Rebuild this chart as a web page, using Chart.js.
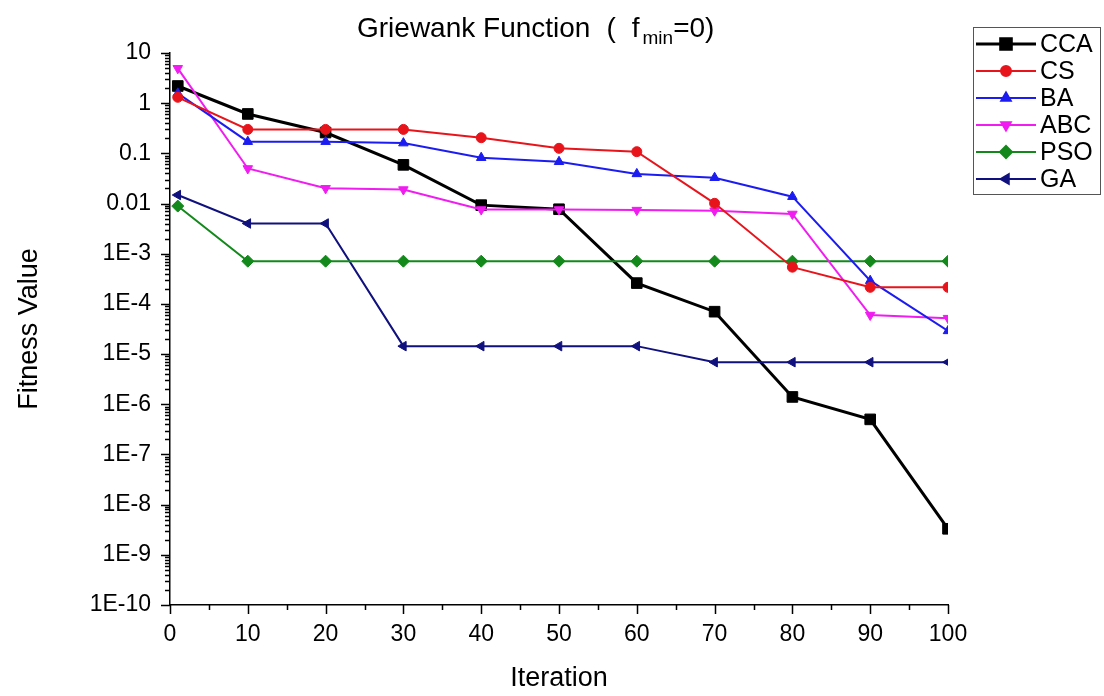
<!DOCTYPE html>
<html>
<head>
<meta charset="utf-8">
<title>Griewank Function</title>
<script src="https://cdn.jsdelivr.net/npm/chart.js@4/dist/chart.umd.min.js"></script>
<style>
  html, body { margin: 0; padding: 0; background: #fff; }
  canvas { display: block; }
</style>
</head>
<body>
<canvas id="chart" width="1104" height="696"></canvas>
<script>
"use strict";

// iterations where the values were sampled
const iterations = [1, 10, 20, 30, 40, 50, 60, 70, 80, 90, 100];

const cca = [2.2, 0.61, 0.26, 0.059, 0.0093, 0.0077, 2.6e-4, 7.0e-5, 1.4e-6, 5.0e-7, 3.3e-9];
const cs  = [1.31, 0.30, 0.30, 0.30, 0.205, 0.126, 0.108, 0.0101, 5.4e-4, 2.14e-4, 2.14e-4];
const ba  = [1.57, 0.171, 0.171, 0.16, 0.082, 0.068, 0.039, 0.0327, 0.0137, 2.9e-4, 2.9e-5];
const abc = [4.95, 0.050, 0.0201, 0.019, 0.0076, 0.0076, 0.0074, 0.0072, 0.0062, 6.0e-5, 5.2e-5];
const pso = [0.0089, 7.1e-4, 7.1e-4, 7.1e-4, 7.1e-4, 7.1e-4, 7.1e-4, 7.1e-4, 7.1e-4, 7.1e-4, 7.1e-4];
const ga  = [0.0148, 0.0040, 0.0040, 1.44e-5, 1.44e-5, 1.44e-5, 1.44e-5, 6.9e-6, 6.9e-6, 6.9e-6, 6.9e-6];

const xTickValues = [0, 10, 20, 30, 40, 50, 60, 70, 80, 90, 100];
const xTickLabels = ["0", "10", "20", "30", "40", "50", "60", "70", "80", "90", "100"];
const yTickValues = [1e-10, 1e-9, 1e-8, 1e-7, 1e-6, 1e-5, 1e-4, 1e-3, 0.01, 0.1, 1, 10];
const yTickLabels = ["1E-10", "1E-9", "1E-8", "1E-7", "1E-6", "1E-5", "1E-4", "1E-3", "0.01", "0.1", "1", "10"];

const FONT = "'Liberation Sans', Arial, sans-serif";

function pts(values) {
  return values.map((v, i) => ({ x: iterations[i], y: v }));
}

function series(label, values, color, style, extra) {
  return {
    label,
    data: pts(values),
    borderColor: color,
    backgroundColor: color,
    pointBackgroundColor: color,
    pointBorderColor: color,
    borderWidth: 2,
    pointStyle: style,
    pointRadius: 5.5,
    pointBorderWidth: 1,
    tension: 0,
    order: 0,
    ...extra,
  };
}

const datasets = [
  series("CCA", cca, "#000000", "rect", { borderWidth: 3, pointRadius: 7.5, order: 1 }),
  series("CS", cs, "#e8141c", "circle", { pointRadius: 5 }),
  series("BA", ba, "#1c1cf0", "triangle", {}),
  series("ABC", abc, "#f01cf0", "triangle", { pointRotation: 180 }),
  series("PSO", pso, "#12891a", "rectRot", { pointRadius: 6 }),
  series("GA", ga, "#10107e", "triangle", { pointRotation: 270 }),
];

// tick marks drawn by hand: major + minor, all pointing outwards
const tickMarks = {
  id: "tickMarks",
  afterDraw(chart) {
    const { ctx } = chart;
    const xs = chart.scales.x, ys = chart.scales.y;
    const left = chart.chartArea.left, bottom = chart.chartArea.bottom;
    ctx.save();
    ctx.strokeStyle = "#000";
    ctx.lineWidth = 1.5;
    ctx.beginPath();
    for (let v = 0; v <= 100; v += 5) {
      const px = Math.round(xs.getPixelForValue(v)) + 0.5;
      const len = v % 10 === 0 ? 9 : 5;
      ctx.moveTo(px, bottom);
      ctx.lineTo(px, bottom + len);
    }
    for (let e = -10; e <= 0; e++) {
      for (let k = 1; k <= 10; k++) {
        const v = k * Math.pow(10, e);
        const py = Math.round(ys.getPixelForValue(v)) + 0.5;
        const len = (k === 1 || k === 10) ? 9 : 5;
        ctx.moveTo(left, py);
        ctx.lineTo(left - len, py);
      }
    }
    ctx.stroke();
    ctx.restore();
  },
};

const titleAndLegend = {
  id: "titleAndLegend",
  afterDraw(chart) {
    const { ctx } = chart;
    ctx.save();
    ctx.fillStyle = "#000";
    ctx.textBaseline = "alphabetic";
    ctx.textAlign = "left";

    // title with subscript
    ctx.font = "28px " + FONT;
    let x = 357;
    const base = 37;
    ctx.fillText("Griewank Function", x, base);
    x += ctx.measureText("Griewank Function").width + 16;
    ctx.fillText("(", x, base);
    x += ctx.measureText("(").width + 16;
    ctx.fillText("f", x, base);
    x += ctx.measureText("f").width + 3;
    ctx.font = "19px " + FONT;
    ctx.fillText("min", x, base + 7);
    x += ctx.measureText("min").width;
    ctx.font = "28px " + FONT;
    ctx.fillText("=0)", x, base);

    // legend box
    ctx.strokeStyle = "#555";
    ctx.lineWidth = 1;
    ctx.strokeRect(973.5, 27.5, 127, 167);
    ctx.font = "25px " + FONT;
    ctx.textBaseline = "middle";
    chart.data.datasets.forEach((ds, i) => {
      const y = 44 + i * 27;
      ctx.strokeStyle = ds.borderColor;
      ctx.lineWidth = ds.borderWidth;
      ctx.beginPath();
      ctx.moveTo(976, y);
      ctx.lineTo(1036, y);
      ctx.stroke();
      ctx.fillStyle = ds.borderColor;
      if (Chart.helpers && Chart.helpers.drawPoint) {
        Chart.helpers.drawPoint(ctx, {
          pointStyle: ds.pointStyle,
          rotation: ds.pointRotation || 0,
          radius: ds.pointRadius,
          borderWidth: 1,
        }, 1006, y);
      }
      ctx.fillStyle = "#000";
      ctx.fillText(ds.label, 1040, y + 1);
    });
    ctx.restore();
  },
};

new Chart(document.getElementById("chart"), {
  type: "line",
  data: { datasets },
  plugins: [tickMarks, titleAndLegend],
  options: {
    responsive: false,
    animation: false,
    devicePixelRatio: 1,
    layout: { padding: { top: 53, right: 156, left: 0, bottom: 0 } },
    plugins: { legend: { display: false }, title: { display: false }, tooltip: { enabled: false } },
    scales: {
      x: {
        type: "linear",
        min: 0,
        max: 100,
        afterBuildTicks: (s) => { s.ticks = xTickValues.map((v) => ({ value: v })); },
        afterFit: (s) => { s.height = 91; },
        grid: { display: false, drawTicks: false },
        border: { display: true, color: "#000", width: 1.5 },
        ticks: {
          autoSkip: false,
          maxRotation: 0,
          padding: 16,
          color: "#000",
          font: { family: FONT, size: 23 },
          callback: (v, i) => xTickLabels[i],
        },
        title: {
          display: true,
          text: "Iteration",
          color: "#000",
          font: { family: FONT, size: 27 },
          padding: { top: 0, bottom: 1 },
        },
      },
      y: {
        type: "logarithmic",
        min: 1e-10,
        max: 10,
        afterBuildTicks: (s) => { s.ticks = yTickValues.map((v) => ({ value: v })); },
        afterFit: (s) => { s.width = 170; },
        grid: { display: false, drawTicks: false },
        border: { display: true, color: "#000", width: 1.5 },
        ticks: {
          autoSkip: false,
          padding: 19,
          color: "#000",
          font: { family: FONT, size: 23 },
          callback: (v, i) => yTickLabels[i],
        },
        title: {
          display: true,
          text: "Fitness Value",
          color: "#000",
          font: { family: FONT, size: 27 },
          padding: { top: 13, bottom: 0 },
        },
      },
    },
  },
});
</script>
</body>
</html>
